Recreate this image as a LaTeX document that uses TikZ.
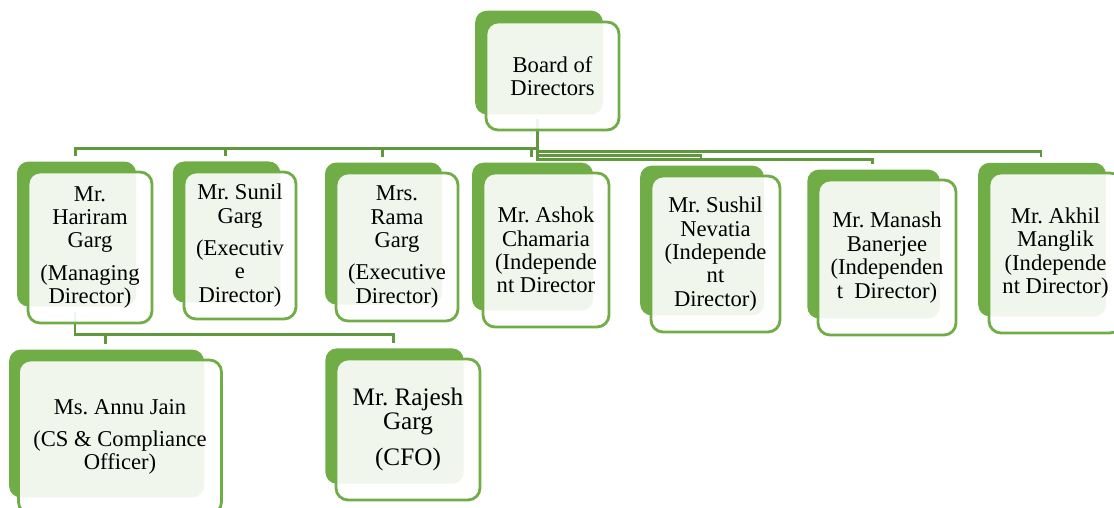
\documentclass[tikz,border=0pt]{standalone}
\usepackage{fontspec}
\setmainfont{Liberation Serif}
\usetikzlibrary{calc, shadows, backgrounds}
\definecolor{boxgreen}{RGB}{112,173,71}
\definecolor{linkgreen}{RGB}{96,152,62}
\frenchspacing
\tikzset{
  member/.style={draw=boxgreen, line width=1.4pt, rounded corners=6pt, fill=white, fill opacity=0.9, text opacity=1,
    align=center, inner sep=0pt, font=\fontsize{11.3}{11.7}\selectfont,
    general shadow={fill=boxgreen, fill opacity=1, shadow xshift=-7pt, shadow yshift=7pt, shadow scale=0.96}},
  link/.style={draw=linkgreen, line width=1.3pt}
}

\begin{document}
\begin{tikzpicture}[x=0.5pt, y=-0.5pt]
\useasboundingbox (0,0) rectangle (1114,508);
% board and its members
\node[member, minimum width=66.5pt, minimum height=54pt] (board) at (552.5,76) {Board of\\Directors};
\node[member, minimum width=62pt, minimum height=75.5pt] (hariram) at (90,247.5) {Mr.\\Hariram\\Garg\\[4.5pt](Managing\\Director)};
\node[member, minimum width=56pt, minimum height=73.5pt] (sunil) at (240,245.5) {Mr. Sunil\\Garg\\[4.5pt](Executiv\\e\\Director)};
\node[member, minimum width=61pt, minimum height=74pt] (rama) at (397,247) {Mrs.\\Rama\\Garg\\[4.5pt](Executive\\Director)};
\node[member, minimum width=63pt, minimum height=77pt] (ashok) at (546,250) {Mr. Ashok\\Chamaria\\(Independe\\nt Director};
\node[member, minimum width=64.5pt, minimum height=78pt] (sushil) at (715.5,254) {Mr. Sushil\\Nevatia\\(Independe\\nt\\Director)};
\node[member, minimum width=69pt, minimum height=77.5pt] (manash) at (887,257.5) {Mr. Manash\\Banerjee\\(Independen\\t\enspace Director)};
\node[member, minimum width=66.5pt, minimum height=80pt] (akhil) at (1055.5,253) {Mr. Akhil\\Manglik\\(Independe\\nt Director)};
% under the managing director
\node[member, minimum width=101.5pt, minimum height=77pt] (annu) at (120,437) {Ms. Annu Jain\\[4.5pt](CS \& Compliance\\Officer)};
\node[member, minimum width=72pt, minimum height=70.5pt, font=\fontsize{12.6}{12.2}\selectfont] (rajesh) at (408,429.5) {Mr. Rajesh\\Garg\\[6pt](CFO)};

\foreach \n in {hariram,sunil,rama,ashok,sushil,manash,akhil,annu,rajesh}
  \coordinate (\n-in) at ($(\n.north)+(-14.5,-15)$);
\coordinate (board-out) at ($(board.south)+(-15,-12)$);
\coordinate (hariram-out) at ($(hariram.south)+(-15,-12)$);

\begin{scope}[on background layer]
\foreach \n in {hariram,sunil,rama,ashok}
  \draw[link] (board-out) -- ++(0,29) -| (\n-in);
\draw[link] (board-out) -- ++(0,32) -| (akhil-in);
\draw[link] (board-out) -- ++(0,36) -| (sushil-in);
\draw[link] (board-out) -- ++(0,40) -| (manash-in);
\draw[link] (hariram-out) -- ++(0,22) -| (annu-in);
\draw[link] (hariram-out) -- ++(0,22) -| (rajesh-in);
\end{scope}
\end{tikzpicture}
\end{document}
